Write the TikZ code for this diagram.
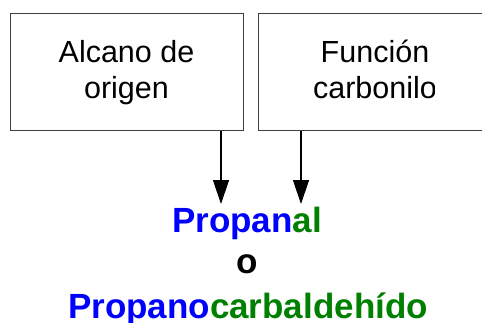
\documentclass[tikz,border=0pt]{standalone}
\usepackage{fontspec}
\setmainfont{Liberation Sans}
\usepackage{xcolor}
\usetikzlibrary{positioning,arrows.meta}
\definecolor{raiz}{HTML}{0000FF}
\definecolor{sufijo}{HTML}{008000}

\begin{document}
\begin{tikzpicture}[x=1pt, y=-1pt,
    caja/.style={draw=black!75, line width=1pt, minimum width=233pt,
    minimum height=117pt, inner sep=0pt},
    rotulo/.style={font=\fontsize{30.5}{36}\selectfont, align=center,
    inner sep=0pt, anchor=base},
    nombre/.style={font=\fontsize{35}{42}\selectfont\bfseries,
    inner sep=0pt, anchor=base},
    flecha/.style={-{Triangle[length=24pt, width=16pt]}, line width=1.3pt},
  ]
  \useasboundingbox[fill=white] (0,0) rectangle (482,322);

  % Cajas
  \node[caja] (alcano) at (126.5, 71.5) {};
  \node[rotulo] (alcanotxt) at (126.5, 98) {Alcano de\\origen};
  \node[caja] (funcion) at (375, 71.5) {};
  \begin{scope}
    \clip (funcion.north west) rectangle (434, 130);
    \node[rotulo] (funciontxt) at (375, 98) {Función\\carbonilo};
  \end{scope}

  % Nombres
  \node[nombre] (propanal) at (247, 232)
    {\textcolor{raiz}{Propan}\textcolor{sufijo}{al}};
  \node[nombre] (o) at (247, 273) {o};
  \node[nombre] (carbal) at (248, 318)
    {\textcolor{raiz}{Propano}\textcolor{sufijo}{carbaldehído}};

  % Flechas
  \coordinate (puntaA) at (221, 204);
  \coordinate (puntaB) at (301, 204);
  \draw[flecha] (alcano.south -| puntaA) -- (puntaA);
  \draw[flecha] (funcion.south -| puntaB) -- (puntaB);
\end{tikzpicture}
\end{document}
